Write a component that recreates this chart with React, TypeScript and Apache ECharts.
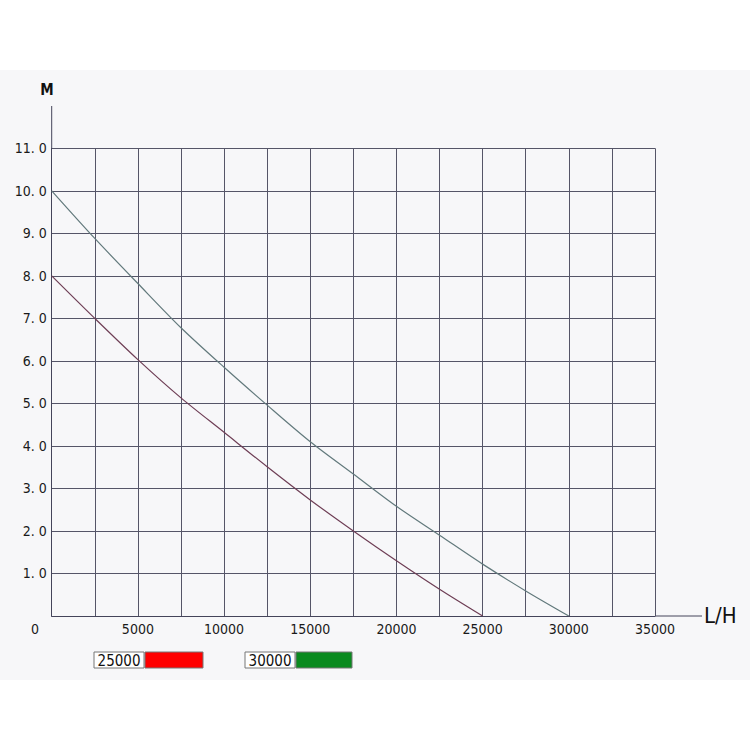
import React, { useEffect, useRef } from "react";
import * as echarts from "echarts";

const flowTicks = [0, 2500, 5000, 7500, 10000, 12500, 15000, 17500, 20000, 22500, 25000, 27500, 30000];
const head25000 = [8.0, 7.0, 6.03, 5.13, 4.32, 3.51, 2.73, 2.0, 1.3, 0.63, 0.0];
const head30000 = [10.0, 8.88, 7.82, 6.78, 5.85, 4.96, 4.1, 3.34, 2.58, 1.9, 1.22, 0.59, 0.0];
const legendNames = ["25000", "30000"];
const legendColors = ["#ff0000", "#0a8a1f"];
const lineColors = ["#6e3e55", "#62797c"];
const yAxisName = "M";
const xAxisName = "L/H";

const FONT = "'DejaVu Sans Condensed', 'Liberation Sans Narrow', 'Liberation Sans', sans-serif";

export default function App() {
  const ref = useRef<HTMLDivElement>(null);
  useEffect(() => {
    if (!ref.current) return;
    const chart = echarts.init(ref.current, null, { renderer: "svg" });
    const left = 51.7;
    const right = 655;
    const top = 148.3;
    const bottom = 616;
    const s1 = head25000.map((v, i) => [flowTicks[i], v]);
    const s2 = head30000.map((v, i) => [flowTicks[i], v]);
    const legendY = 652;
    chart.setOption({
      animation: false,
      backgroundColor: "#ffffff",
      grid: { left, right: 750 - right, top, bottom: 750 - bottom, containLabel: false },
      xAxis: {
        type: "value",
        min: 0,
        max: 35000,
        interval: 2500,
        axisLine: { show: true, lineStyle: { color: "#44445a", width: 1 } },
        axisTick: { show: false },
        axisLabel: {
          interval: 1,
          formatter: (v: number) => (v === 0 || v % 5000 !== 0 ? "" : String(v)),
          color: "#1a1a1a",
          fontFamily: FONT,
          fontSize: 14,
          margin: 6,
        },
        splitLine: { show: true, lineStyle: { color: "#555568", width: 1 } },
      },
      yAxis: {
        type: "value",
        min: 0,
        max: 11,
        interval: 1,
        axisLine: { show: true, lineStyle: { color: "#44445a", width: 1 } },
        axisTick: { show: false },
        axisLabel: {
          formatter: (v: number) => (v === 0 ? "" : v.toFixed(1).replace(".", ". ")),
          color: "#1a1a1a",
          fontFamily: FONT,
          fontSize: 14,
          margin: 5,
        },
        splitLine: { show: true, lineStyle: { color: "#555568", width: 1 } },
      },
      series: [
        {
          name: legendNames[0],
          type: "line",
          data: s1,
          smooth: 0.3,
          showSymbol: false,
          lineStyle: { color: lineColors[0], width: 1.2 },
          z: 5,
        },
        {
          name: legendNames[1],
          type: "line",
          data: s2,
          smooth: 0.3,
          showSymbol: false,
          lineStyle: { color: lineColors[1], width: 1.2 },
          z: 5,
        },
      ],
      graphic: [
        {
          type: "rect",
          z: -10,
          silent: true,
          shape: { x: 0, y: 70, width: 750, height: 610 },
          style: { fill: "#f7f7f9" },
        },
        {
          type: "line",
          shape: { x1: left, y1: top, x2: left, y2: 106 },
          style: { stroke: "#44445a", lineWidth: 1 },
        },
        {
          type: "line",
          shape: { x1: right, y1: bottom, x2: 702, y2: bottom },
          style: { stroke: "#44445a", lineWidth: 1 },
        },
        {
          type: "text",
          x: 47,
          y: 90,
          style: { text: yAxisName, font: `bold 15px ${FONT}`, fill: "#111", textAlign: "center", textVerticalAlign: "middle" },
        },
        {
          type: "text",
          x: 704,
          y: 615,
          style: { text: xAxisName, font: `22px ${FONT}`, fill: "#111", textAlign: "left", textVerticalAlign: "middle" },
        },
        {
          type: "text",
          x: 35,
          y: 629,
          style: { text: "0", font: `14px ${FONT}`, fill: "#1a1a1a", textAlign: "center", textVerticalAlign: "middle" },
        },
        {
          type: "rect",
          shape: { x: 94, y: legendY, width: 50, height: 16 },
          style: { fill: "#ffffff", stroke: "#777", lineWidth: 1 },
        },
        {
          type: "text",
          x: 119,
          y: legendY + 8.5,
          style: { text: legendNames[0], font: `15px ${FONT}`, fill: "#111", textAlign: "center", textVerticalAlign: "middle" },
        },
        {
          type: "rect",
          shape: { x: 145, y: legendY, width: 58, height: 16 },
          style: { fill: legendColors[0], stroke: "#777", lineWidth: 1 },
        },
        {
          type: "rect",
          shape: { x: 245, y: legendY, width: 50, height: 16 },
          style: { fill: "#ffffff", stroke: "#777", lineWidth: 1 },
        },
        {
          type: "text",
          x: 270,
          y: legendY + 8.5,
          style: { text: legendNames[1], font: `15px ${FONT}`, fill: "#111", textAlign: "center", textVerticalAlign: "middle" },
        },
        {
          type: "rect",
          shape: { x: 296, y: legendY, width: 56, height: 16 },
          style: { fill: legendColors[1], stroke: "#777", lineWidth: 1 },
        },
      ],
    });
    return () => chart.dispose();
  }, []);
  return (
    <div
      ref={ref}
      style={{ position: "fixed", left: 0, top: 0, width: 750, height: 750, background: "#fff" }}
    />
  );
}
